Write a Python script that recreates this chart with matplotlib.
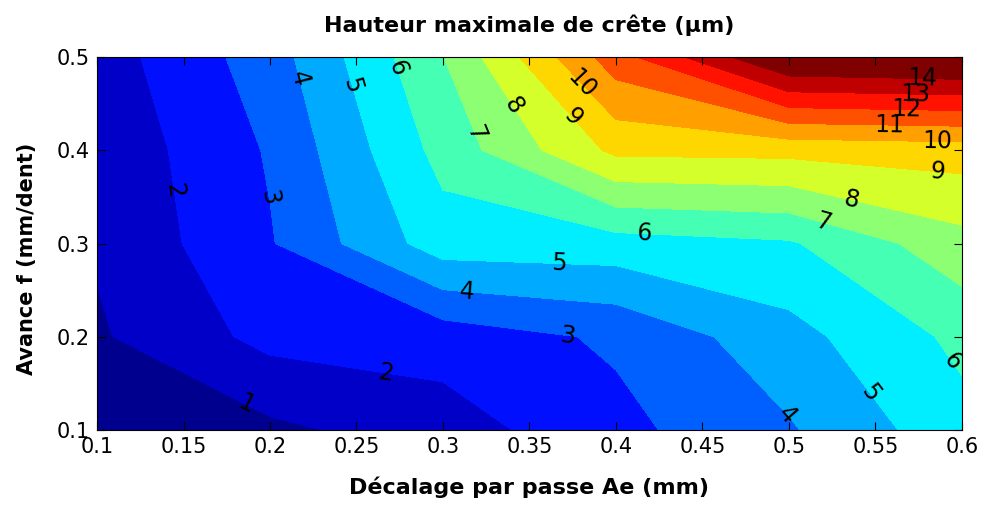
import matplotlib
matplotlib.use("Agg")
import matplotlib.pyplot as plt
import numpy as np
from matplotlib.ticker import FormatStrFormatter

plt.rcParams["font.family"] = ["DejaVu Sans"]

# grid of the measurement plan
ae_mm = [0.1, 0.2, 0.3, 0.4, 0.5, 0.6]        # Décalage par passe Ae
f_mm_dent = [0.1, 0.2, 0.3, 0.4, 0.5]          # Avance f

# max crest height (µm), one list per feed value, along Ae
h_f010 = [0.45, 0.78, 1.53, 2.71, 3.89, 5.65]
h_f020 = [0.87, 2.30, 2.44, 3.16, 4.64, 6.25]
h_f030 = [1.11, 2.92, 5.53, 5.57, 5.88, 7.64]
h_f040 = [1.23, 3.10, 6.35, 9.23, 9.30, 9.46]
h_f050 = [1.49, 3.52, 6.98, 11.57, 15.20, 15.43]

contour_levels = list(range(1, 15))

# where the contour labels sit (Ae, f)
label_xy = [
    (0.185, 0.124),
    (0.145, 0.357), (0.267, 0.161),
    (0.199, 0.350), (0.372, 0.199),
    (0.214, 0.475), (0.314, 0.247), (0.499, 0.116),
    (0.245, 0.468), (0.367, 0.276), (0.546, 0.138),
    (0.274, 0.489), (0.416, 0.308), (0.593, 0.172),
    (0.318, 0.418), (0.520, 0.323),
    (0.340, 0.447), (0.536, 0.347),
    (0.375, 0.436), (0.586, 0.380),
    (0.378, 0.467), (0.586, 0.406),
    (0.558, 0.421), (0.568, 0.441), (0.573, 0.457), (0.577, 0.476),
]

band_colors = [
    "#00008F", "#0000C8", "#0010FF", "#0060FF", "#00AAFF", "#00EEFF",
    "#45FFB5", "#8CFF73", "#D4FF2B", "#FFD700", "#FFA000", "#FF5000",
    "#FF1200", "#C00000", "#800000",
]

X, Y = np.meshgrid(ae_mm, f_mm_dent)
Z = np.array([h_f010, h_f020, h_f030, h_f040, h_f050])

fig = plt.figure(figsize=(9.85, 5.05), dpi=100)
ax = fig.add_axes([0.0985, 0.1485, 0.878, 0.7386])

fill_levels = [0] + contour_levels + [16]
ax.contourf(X, Y, Z, levels=fill_levels, colors=band_colors)
cs = ax.contour(X, Y, Z, levels=contour_levels, colors="k", linewidths=0)
ax.clabel(cs, manual=label_xy, inline=False, fontsize=17, fmt="%d", colors="k")

ax.set_xlim(0.1, 0.6)
ax.set_ylim(0.1, 0.5)
ax.set_xticks(np.arange(0.1, 0.6001, 0.05))
ax.set_yticks(np.arange(0.1, 0.5001, 0.1))
ax.xaxis.set_major_formatter(FormatStrFormatter("%g"))
ax.yaxis.set_major_formatter(FormatStrFormatter("%g"))
ax.tick_params(direction="in", top=True, right=True, length=6, width=0.8,
               labelsize=15, pad=5)

ax.set_xlabel("Décalage par passe Ae (mm)", fontsize=16, fontweight="bold")
ax.xaxis.set_label_coords(0.5, -0.125)
ax.set_ylabel("Avance f (mm/dent)", fontsize=15, fontweight="bold")
ax.yaxis.set_label_coords(-0.069, 0.46)
ax.set_title("Hauteur maximale de crête (µm)", fontsize=16, fontweight="bold",
             pad=18)

fig.savefig("out.png", dpi=100)
